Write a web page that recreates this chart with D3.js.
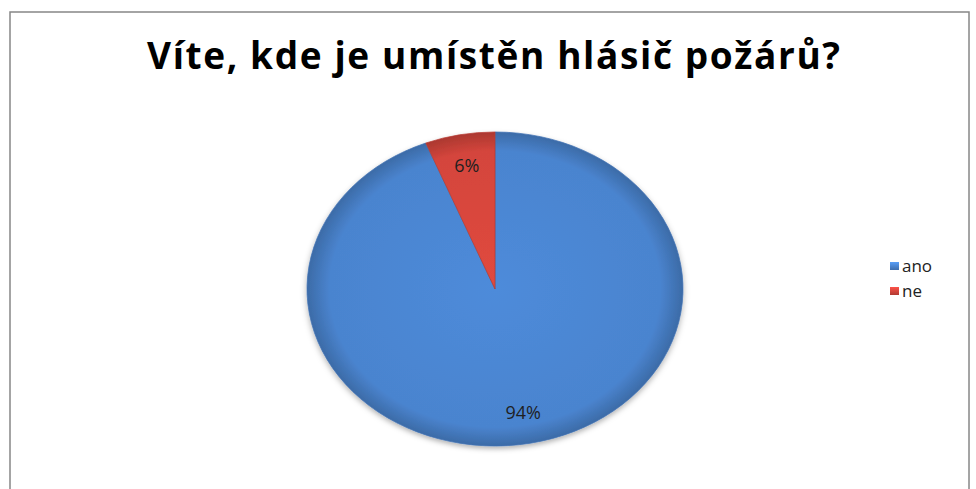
<!DOCTYPE html>
<html>
<head>
<meta charset="utf-8">
<script src="https://cdn.jsdelivr.net/npm/d3@7"></script>
<style>
  body { margin: 0; background: #fff; }
  svg { display: block; }
</style>
</head>
<body>
<svg id="chart"></svg>
<script>
const title = "Víte, kde je umístěn hlásič požárů?";
const categories = ["ano", "ne"];
const values = [94, 6];
const labels = ["94%", "6%"];
const fills = ["#4a84cf", "#d4453c"];

const width = 976;
const height = 489;
const cx = 495, cy = 289;
const rx = 188, ry = 157;

const svg = d3.select("#chart")
  .attr("width", width)
  .attr("height", height)
  .attr("font-family", "'Open Sans', sans-serif");

const defs = svg.append("defs");

// soft shade like the office 3d pie
fills.forEach((c, i) => {
  const g = defs.append("radialGradient")
    .attr("id", "grad" + i)
    .attr("gradientUnits", "userSpaceOnUse")
    .attr("cx", 0).attr("cy", 0).attr("r", rx);
  g.append("stop").attr("offset", "0%").attr("stop-color", d3.rgb(c).brighter(0.15));
  g.append("stop").attr("offset", "88%").attr("stop-color", c);
  g.append("stop").attr("offset", "100%").attr("stop-color", d3.rgb(c).darker(0.6));

  const lg = defs.append("linearGradient")
    .attr("id", "leg" + i)
    .attr("x1", 0).attr("y1", 0).attr("x2", 0).attr("y2", 1);
  lg.append("stop").attr("offset", "0%").attr("stop-color", d3.rgb(c).brighter(0.5));
  lg.append("stop").attr("offset", "100%").attr("stop-color", d3.rgb(c).darker(0.5));
});

const shadow = defs.append("filter").attr("id", "shadow")
  .attr("x", "-10%").attr("y", "-10%").attr("width", "120%").attr("height", "125%");
shadow.append("feDropShadow")
  .attr("dx", 0).attr("dy", 3).attr("stdDeviation", 3)
  .attr("flood-color", "#000").attr("flood-opacity", 0.3);

// chart frame (bottom edge is outside the picture)
svg.append("rect")
  .attr("x", 10).attr("y", 12)
  .attr("width", 959).attr("height", 500)
  .attr("fill", "#fff")
  .attr("stroke", "#878787")
  .attr("stroke-width", 1.5);

svg.append("text")
  .attr("x", 147).attr("y", 69)
  .attr("font-size", 37)
  .attr("font-weight", 700)
  .attr("fill", "#000")
  .attr("textLength", 693)
  .attr("lengthAdjust", "spacing")
  .text(title);

const pie = d3.pie().sort(null).value(d => d)(values);
const arc = d3.arc().innerRadius(0).outerRadius(rx);
const labelArc = d3.arc().innerRadius(rx * 0.8).outerRadius(rx * 0.8);

const pieG = svg.append("g")
  .attr("transform", `translate(${cx},${cy}) scale(1,${ry / rx})`)
  .attr("filter", "url(#shadow)");

pieG.selectAll("path")
  .data(pie)
  .join("path")
  .attr("d", arc)
  .attr("fill", (d, i) => `url(#grad${i})`)
  .attr("stroke", (d, i) => d3.rgb(fills[i]).darker(0.4))
  .attr("stroke-width", 0.8);

svg.append("g")
  .selectAll("text")
  .data(pie)
  .join("text")
  .attr("x", d => cx + labelArc.centroid(d)[0])
  .attr("y", d => cy + labelArc.centroid(d)[1] * ry / rx)
  .attr("dy", "0.35em")
  .attr("text-anchor", "middle")
  .attr("font-size", 18)
  .attr("fill", "#1f1f1f")
  .text((d, i) => labels[i]);

const legend = svg.append("g")
  .attr("transform", "translate(890,262)");

const item = legend.selectAll("g")
  .data(categories)
  .join("g")
  .attr("transform", (d, i) => `translate(0,${i * 25})`);

item.append("rect")
  .attr("width", 9).attr("height", 8)
  .attr("fill", (d, i) => `url(#leg${i})`);

item.append("text")
  .attr("x", 12).attr("y", 4)
  .attr("dy", "0.35em")
  .attr("font-size", 17)
  .attr("fill", "#222")
  .text(d => d);
</script>
</body>
</html>
